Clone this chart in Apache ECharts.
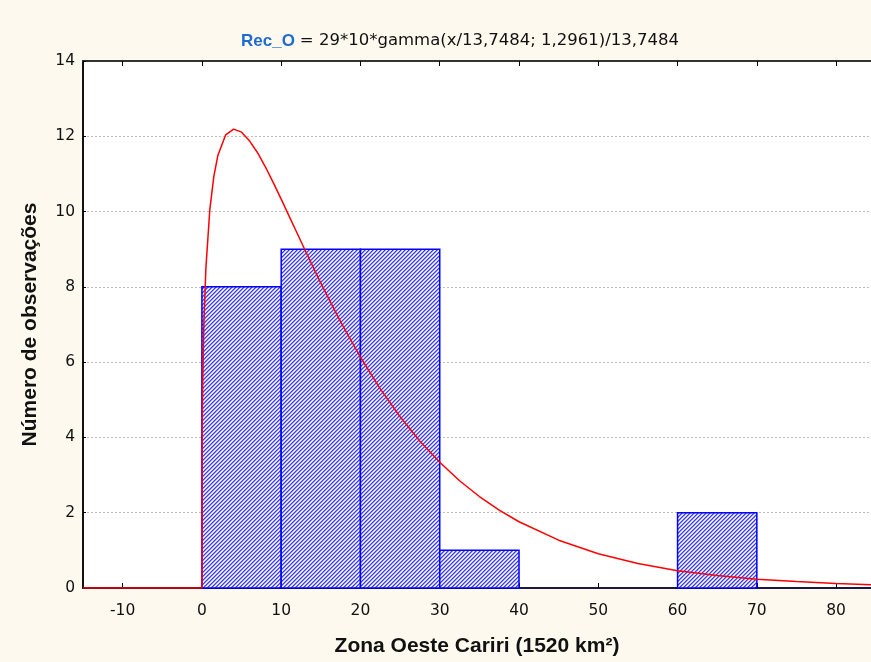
<!DOCTYPE html>
<html>
<head>
<meta charset="utf-8">
<script src="https://cdn.jsdelivr.net/npm/echarts@6/dist/echarts.min.js"></script>
<style>
html,body{margin:0;padding:0;background:#fdf9ee;}
#chart{width:871px;height:662px;}
</style>
</head>
<body>
<div id="chart"></div>
<script>
// Histogram bins: [start, end, count]
const binStarts = [0, 10, 20, 30, 40, 50, 60];
const binEnds   = [10, 20, 30, 40, 50, 60, 70];
const binCounts = [8, 9, 9, 1, 0, 0, 2];

// Fitted gamma curve
const curveX = [-15, 0, 0.02, 0.05, 0.1, 0.25, 0.5, 1, 1.5, 2, 3, 4, 5, 6, 7, 8, 9, 10, 11, 12, 13, 15, 17.5, 20, 22.5, 25, 27.5, 30, 32.5, 35, 37.5, 40, 45, 50, 55, 60, 65, 70, 75, 80, 84.4];
const curveY = [0, 0, 3.40, 4.44, 5.45, 7.05, 8.49, 10.06, 10.93, 11.48, 12.04, 12.19, 12.11, 11.88, 11.57, 11.19, 10.77, 10.33, 9.88, 9.43, 8.98, 8.10, 7.07, 6.13, 5.29, 4.55, 3.90, 3.34, 2.85, 2.43, 2.07, 1.76, 1.27, 0.91, 0.65, 0.46, 0.33, 0.23, 0.17, 0.12, 0.087];

const xTicks = [-10, 0, 10, 20, 30, 40, 50, 60, 70, 80];
const yTicks = [0, 2, 4, 6, 8, 10, 12, 14];

// hatch pattern ("/" diagonal stripes)
const pc = document.createElement('canvas');
pc.width = 4; pc.height = 4;
const pctx = pc.getContext('2d');
const hatchCols = ['#ffffff', '#c8c8ff', '#3a3aff', '#8a8aff'];
for (let x = 0; x < 4; x++) {
  for (let y = 0; y < 4; y++) {
    pctx.fillStyle = hatchCols[(x + y) % 4];
    pctx.fillRect(x, y, 1, 1);
  }
}
const hatch = { image: pc, repeat: 'repeat' };

const bars = binStarts.map((s, i) => [s, binEnds[i], binCounts[i]]).filter(d => d[2] > 0);
const curve = curveX.map((x, i) => [x, curveY[i]]);

const chart = echarts.init(document.getElementById('chart'), null, { renderer: 'canvas' });
const font = 'Liberation Sans, Arial, sans-serif';
const tickFont = 'DejaVu Sans, Liberation Sans, sans-serif';
chart.setOption({
  backgroundColor: '#fdf9ee',
  animation: false,
  title: {
    text: '{a|Rec_O} {b|= 29*10*gamma(x/13,7484; 1,2961)/13,7484}',
    left: 236, top: 27,
    textStyle: {
      rich: {
        a: { fontFamily: font, fontWeight: 'bold', fontSize: 17, color: '#1f6bd0' },
        b: { fontFamily: tickFont, fontWeight: 'normal', fontSize: 16.5, color: '#111' }
      }
    }
  },
  grid: { left: 83, right: 0, top: 61, bottom: 73, show: true, backgroundColor: '#ffffff', borderWidth: 0 },
  xAxis: [{
    type: 'value', min: -15, max: 84.4, position: 'bottom',
    axisLine: { show: true, onZero: false, lineStyle: { color: '#1a1a40', width: 2 } },
    axisTick: { show: true, inside: true, length: 5, customValues: xTicks, lineStyle: { color: '#000' } },
    axisLabel: { customValues: xTicks, fontFamily: tickFont, fontSize: 15.5, color: '#111', margin: 15 },
    splitLine: { show: false },
    name: 'Zona Oeste Cariri (1520 km²)', nameLocation: 'middle', nameGap: 48,
    nameTextStyle: { fontFamily: font, fontWeight: 'bold', fontSize: 21, color: '#111' }
  }, {
    type: 'value', min: -15, max: 84.4, position: 'top',
    axisLine: { show: true, onZero: false, lineStyle: { color: '#333', width: 2 } },
    axisTick: { show: true, inside: true, length: 5, customValues: xTicks, lineStyle: { color: '#000' } },
    axisLabel: { show: false },
    splitLine: { show: false }
  }],
  yAxis: {
    type: 'value', min: 0, max: 14, interval: 2,
    axisLine: { show: true, onZero: false, lineStyle: { color: '#111', width: 2 } },
    axisTick: { show: true, inside: true, length: 3, lineStyle: { color: '#000' } },
    axisLabel: { fontFamily: tickFont, fontSize: 15.5, color: '#111', margin: 8 },
    splitLine: { show: true, lineStyle: { color: '#bdbdbd', type: [2, 2], width: 1 } },
    name: 'Número de observações', nameLocation: 'middle', nameGap: 42,
    nameTextStyle: { fontFamily: font, fontWeight: 'bold', fontSize: 21, color: '#111' }
  },
  series: [{
    type: 'custom',
    data: bars,
    encode: { x: [0, 1], y: 2 },
    renderItem: function (params, api) {
      const p0 = api.coord([api.value(0), api.value(2)]);
      const p1 = api.coord([api.value(1), 0]);
      return {
        type: 'rect',
        shape: { x: p0[0], y: p0[1], width: p1[0] - p0[0], height: p1[1] - p0[1] },
        style: { fill: hatch, stroke: '#0000ff', lineWidth: 1.5 }
      };
    },
    z: 2
  }, {
    type: 'line',
    data: curve,
    showSymbol: false,
    smooth: false,
    lineStyle: { color: '#ff0000', width: 1.5 },
    z: 5
  }]
});
</script>
</body>
</html>
